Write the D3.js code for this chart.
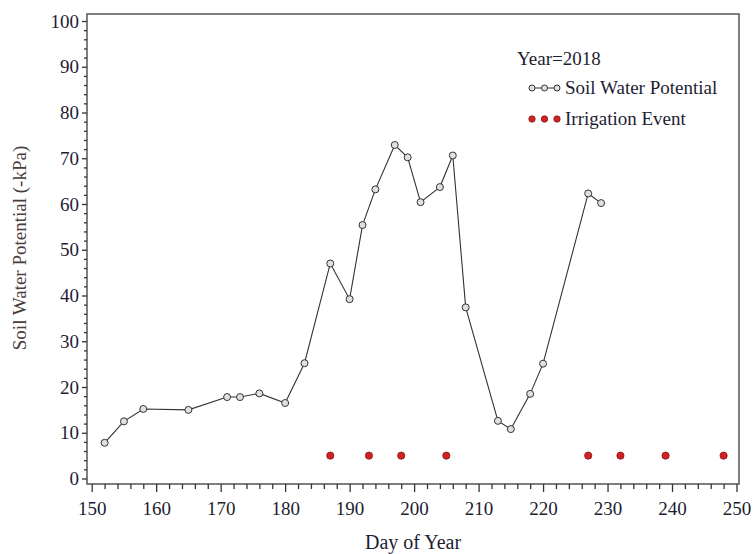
<!DOCTYPE html>
<html>
<head>
<meta charset="utf-8">
<script src="https://cdn.jsdelivr.net/npm/d3@7"></script>
<style>
  body { margin: 0; background: #fff; }
  svg text { font-family: "Liberation Serif", "Times New Roman", serif; }
</style>
</head>
<body>
<svg id="chart" width="753" height="554"></svg>
<script>
// soil water potential readings, 2018
const days = [152, 155, 158, 165, 171, 173, 176, 180, 183, 187, 190, 192, 194, 197, 199, 201, 204, 206, 208, 213, 215, 218, 220, 227, 229];
const potential = [7.8, 12.5, 15.2, 15.0, 17.8, 17.8, 18.6, 16.5, 25.2, 47.0, 39.2, 55.4, 63.2, 72.9, 70.2, 60.4, 63.7, 70.6, 37.4, 12.6, 10.8, 18.5, 25.1, 62.3, 60.2];

// irrigation events
const irrigationDays = [187, 193, 198, 205, 227, 232, 239, 248];
const irrigationLevel = 5;

const xTicks = [150, 160, 170, 180, 190, 200, 210, 220, 230, 240, 250];
const yTicks = [0, 10, 20, 30, 40, 50, 60, 70, 80, 90, 100];

const svg = d3.select("#chart");

const frame = {left: 87, right: 739, top: 14, bottom: 484};

const x = d3.scaleLinear().domain([150, 250]).range([91.7, 736.5]);
const y = d3.scaleLinear().domain([0, 100]).range([478.5, 21]);

const labelColor = "#1d1d33";
const axisColor = "#555";

// frame
svg.append("rect")
    .attr("x", frame.left)
    .attr("y", frame.top)
    .attr("width", frame.right - frame.left)
    .attr("height", frame.bottom - frame.top)
    .attr("fill", "none")
    .attr("stroke", axisColor)
    .attr("stroke-width", 1.5);

// x axis, minor ticks first then majors with labels
const xMinor = d3.range(150, 251, 2).filter(d => d % 10 !== 0);
svg.append("g")
    .attr("transform", `translate(0,${frame.bottom})`)
    .call(d3.axisBottom(x).tickValues(xMinor).tickSize(5).tickFormat(""))
    .call(g => g.select(".domain").remove())
    .call(g => g.selectAll("line").attr("stroke", "#333").attr("stroke-width", 1.3));

svg.append("g")
    .attr("transform", `translate(0,${frame.bottom})`)
    .call(d3.axisBottom(x).tickValues(xTicks).tickSize(8).tickPadding(10))
    .call(g => g.select(".domain").remove())
    .call(g => g.selectAll("line").attr("stroke", "#333").attr("stroke-width", 1.3))
    .call(g => g.selectAll("text")
        .attr("font-size", 19)
        .attr("fill", labelColor)
        .style("font-family", "Liberation Serif"));

// y axis
const yMinor = d3.range(0, 101, 2).filter(d => d % 10 !== 0);
svg.append("g")
    .attr("transform", `translate(${frame.left},0)`)
    .call(d3.axisLeft(y).tickValues(yMinor).tickSize(3).tickFormat(""))
    .call(g => g.select(".domain").remove())
    .call(g => g.selectAll("line").attr("stroke", "#333").attr("stroke-width", 1.3));

svg.append("g")
    .attr("transform", `translate(${frame.left},0)`)
    .call(d3.axisLeft(y).tickValues(yTicks).tickSize(5).tickPadding(3))
    .call(g => g.select(".domain").remove())
    .call(g => g.selectAll("line").attr("stroke", "#333").attr("stroke-width", 1.3))
    .call(g => g.selectAll("text")
        .attr("font-size", 19)
        .attr("fill", labelColor)
        .style("font-family", "Liberation Serif"));

// axis titles
svg.append("text")
    .attr("x", 413)
    .attr("y", 549)
    .attr("text-anchor", "middle")
    .attr("font-size", 20)
    .attr("fill", labelColor)
    .text("Day of Year");

svg.append("text")
    .attr("transform", "translate(26,248) rotate(-90)")
    .attr("text-anchor", "middle")
    .attr("font-size", 19)
    .attr("fill", "#4a3c3c")
    .text("Soil Water Potential (-kPa)");

// soil water line and markers
const points = days.map((d, i) => ({day: d, value: potential[i]}));

const line = d3.line()
    .x(d => x(d.day))
    .y(d => y(d.value));

svg.append("path")
    .datum(points)
    .attr("d", line)
    .attr("fill", "none")
    .attr("stroke", "#333")
    .attr("stroke-width", 1.1);

svg.append("g")
    .selectAll("circle")
    .data(points)
    .join("circle")
    .attr("cx", d => x(d.day))
    .attr("cy", d => y(d.value))
    .attr("r", 3.5)
    .attr("fill", "#e0e0e0")
    .attr("stroke", "#333")
    .attr("stroke-width", 1);

// irrigation events
svg.append("g")
    .selectAll("circle")
    .data(irrigationDays)
    .join("circle")
    .attr("cx", d => x(d))
    .attr("cy", y(irrigationLevel))
    .attr("r", 3.6)
    .attr("fill", "#d42020")
    .attr("stroke", "#7a1a1a")
    .attr("stroke-width", 0.8);

// legend
const legend = svg.append("g").attr("transform", "translate(517,0)");

legend.append("text")
    .attr("x", 0)
    .attr("y", 65)
    .attr("font-size", 19)
    .attr("fill", labelColor)
    .text("Year=2018");

const swLegend = legend.append("g").attr("transform", "translate(0,88)");
swLegend.append("line")
    .attr("x1", 15).attr("x2", 40)
    .attr("stroke", "#333").attr("stroke-width", 1);
swLegend.selectAll("circle")
    .data([15, 27.5, 40])
    .join("circle")
    .attr("cx", d => d)
    .attr("r", 3)
    .attr("fill", "#e0e0e0")
    .attr("stroke", "#333");
swLegend.append("text")
    .attr("x", 48)
    .attr("y", 6)
    .attr("font-size", 19)
    .attr("fill", labelColor)
    .text("Soil Water Potential");

const irLegend = legend.append("g").attr("transform", "translate(0,119)");
irLegend.selectAll("circle")
    .data([15, 27.5, 40])
    .join("circle")
    .attr("cx", d => d)
    .attr("r", 3.2)
    .attr("fill", "#d42020")
    .attr("stroke", "#7a1a1a")
    .attr("stroke-width", 0.8);
irLegend.append("text")
    .attr("x", 48)
    .attr("y", 6)
    .attr("font-size", 19)
    .attr("fill", labelColor)
    .text("Irrigation Event");
</script>
</body>
</html>
